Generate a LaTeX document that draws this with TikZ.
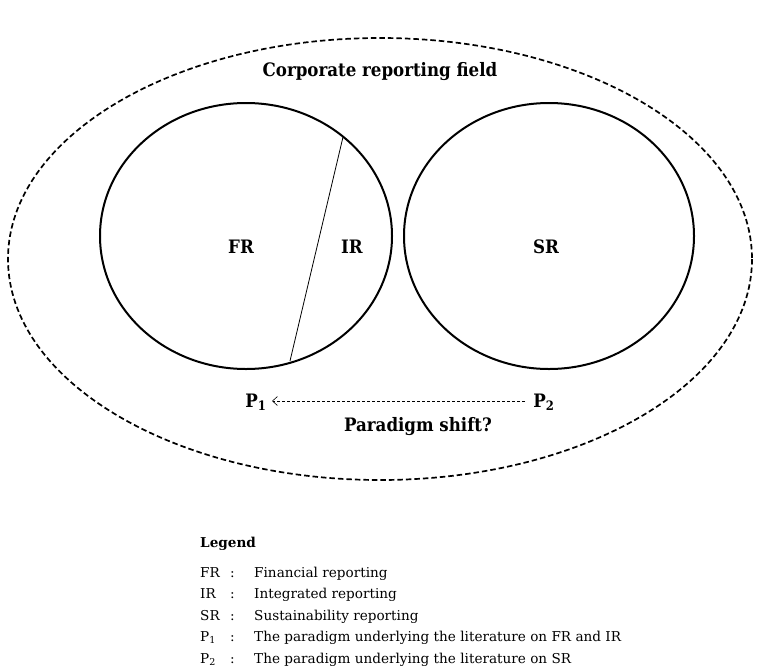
\documentclass[tikz,border=0pt]{standalone}
\usepackage{fontspec}
\setmainfont{DejaVu Serif}
\newfontfamily\labelfont{DejaVu Serif Condensed}
\usetikzlibrary{arrows.meta}
\tikzset{
  field/.style={draw, line width=1.7pt, dash pattern=on 5.5pt off 3pt},
  area/.style={draw, line width=2pt},
  lbl/.style={font=\labelfont\bfseries\fontsize{18.5}{20}\selectfont, inner sep=0pt, anchor=base},
  legtxt/.style={font=\fontsize{13.6}{16}\selectfont, anchor=base west, inner sep=0pt},
  shiftarrow/.style={dash pattern=on 3pt off 2pt, line width=0.6pt, -{Straight Barb[length=5pt,width=9pt]}}
}
\begin{document}
\begin{tikzpicture}[x=1pt,y=-1pt]
\useasboundingbox (0,0) rectangle (760,667);
% corporate reporting field
\draw[field] (380,259) ellipse [x radius=372, y radius=221];
\node[lbl] (title) at (380,76) {Corporate reporting field};
% reporting areas
\draw[area] (246,236) ellipse [x radius=146, y radius=133];
\draw[area] (549,236) ellipse [x radius=145, y radius=133];
\coordinate (ctop) at (343,137);
\coordinate (cbot) at (290,361);
\draw[line width=0.8pt] (ctop) -- (cbot);
\node[lbl] (fr) at (241,253) {FR};
\node[lbl] (ir) at (352,253) {IR};
\node[lbl] (sr) at (546,253) {SR};
% paradigms
\node[lbl] (p1) at (256,407) {P\textsubscript{1}};
\node[lbl] (p2) at (544,407) {P\textsubscript{2}};
\coordinate (a2) at (525,401);
\coordinate (a1) at (272,401);
\draw[shiftarrow] (a2) -- (a1);
\node[lbl] (ps) at (418,431) {Paradigm shift?};
% legend
\node[legtxt, font=\bfseries\fontsize{13.6}{16}\selectfont] (leg) at (200,547) {Legend};
\foreach \k/\a [count=\i] in {
  FR/Financial reporting,
  IR/Integrated reporting,
  SR/Sustainability reporting,
  P\textsubscript{1}/The paradigm underlying the literature on FR and IR,
  P\textsubscript{2}/The paradigm underlying the literature on SR}{
  \node[legtxt] (k\i) at (200,555.4+21.6*\i) {\k};
  \node[legtxt] (c\i) at (230,555.4+21.6*\i) {:};
  \node[legtxt] (t\i) at (254,555.4+21.6*\i) {\a};
}
\end{tikzpicture}
\end{document}
